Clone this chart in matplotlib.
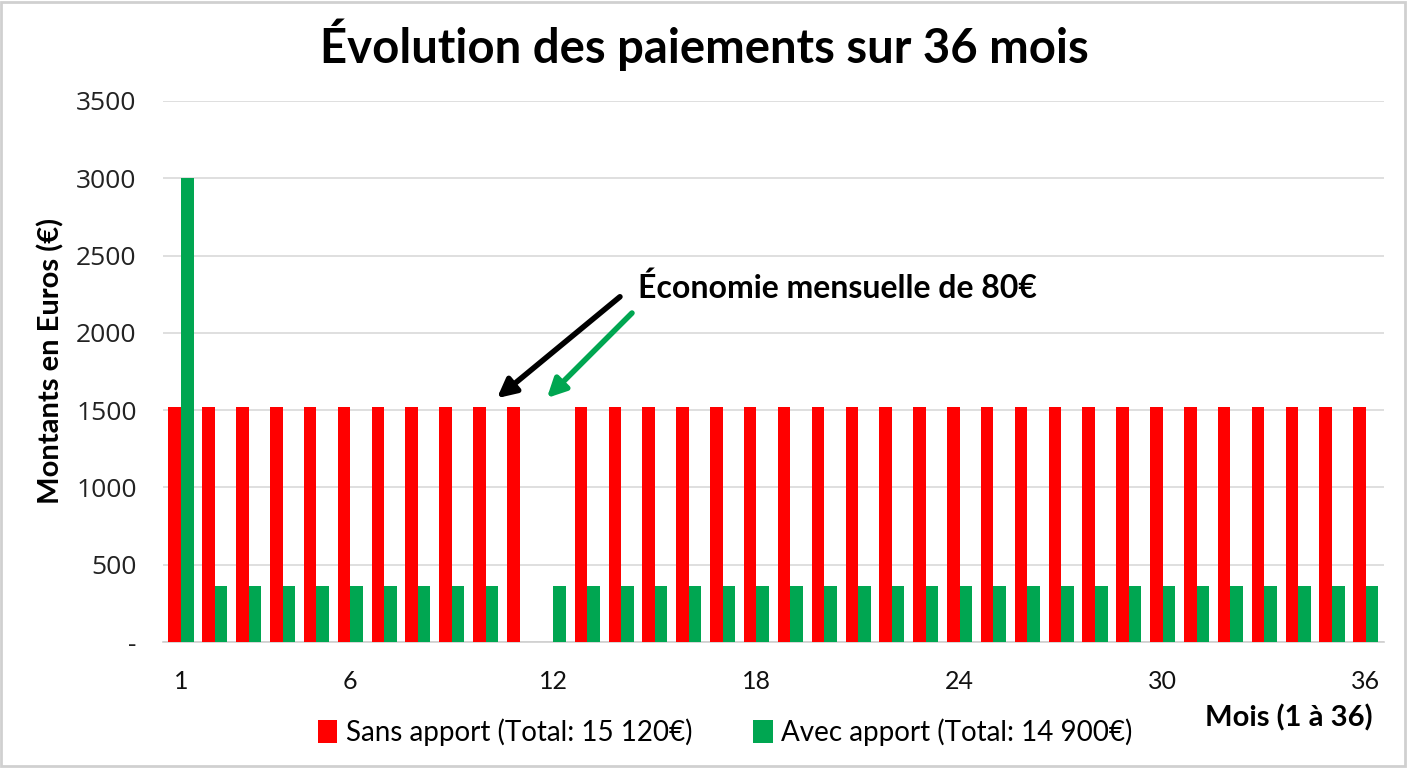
import matplotlib.pyplot as plt
import matplotlib.patches as patches
import numpy as np

# Months 1..36
months = list(range(1, 37))

# Sans apport: monthly payments
sans_apport = [1520, 1520, 1520, 1520, 1520, 1520, 1520, 1520, 1520, 1520,
               1520, 0, 1520, 1520, 1520, 1520, 1520, 1520, 1520, 1520,
               1520, 1520, 1520, 1520, 1520, 1520, 1520, 1520, 1520, 1520,
               1520, 1520, 1520, 1520, 1520, 1520]

# Avec apport: 3000 down payment in month 1, then 360 per month
avec_apport = [3000, 360, 360, 360, 360, 360, 360, 360, 360, 360,
               0, 360, 360, 360, 360, 360, 360, 360, 360, 360,
               360, 360, 360, 360, 360, 360, 360, 360, 360, 360,
               360, 360, 360, 360, 360, 360]

x_ticks = [1, 6, 12, 18, 24, 30, 36]
y_ticks = [0, 500, 1000, 1500, 2000, 2500, 3000, 3500]
y_tick_labels = ['-', '500', '1000', '1500', '2000', '2500', '3000', '3500']

label_sans = 'Sans apport (Total: 15 120€)'
label_avec = 'Avec apport (Total: 14 900€)'

RED = '#FF0000'
GREEN = '#00A651'


def main():
    fig = plt.figure(figsize=(14.08, 7.68), dpi=100)
    ax = fig.add_axes([0.1158, 0.164, 0.867, 0.7045])

    x = np.array(months)
    bar_width = 0.37
    ax.bar(x - bar_width / 2, sans_apport, bar_width, color=RED, label=label_sans, zorder=3)
    ax.bar(x + bar_width / 2, avec_apport, bar_width, color=GREEN, label=label_avec, zorder=3)

    ax.set_xlim(0.47, 36.53)
    ax.set_ylim(0, 3500)

    ax.set_yticks(y_ticks)
    ax.set_yticklabels(y_tick_labels, fontfamily='Open Sans', fontsize=19, color='#222222')
    ax.set_xticks(x_ticks)
    ax.set_xticklabels([str(t) for t in x_ticks], fontfamily='Lato', fontsize=18, color='#111111')
    ax.tick_params(axis='y', length=0, pad=19)
    ax.tick_params(axis='x', length=0, pad=20)

    ax.grid(axis='y', color='#d9d9d9', linewidth=1.2, zorder=0)
    for side in ['top', 'right', 'left']:
        ax.spines[side].set_visible(False)
    ax.spines['bottom'].set_color('#cfcfcf')
    ax.spines['bottom'].set_linewidth(1.2)

    fig.text(0.5, 0.942, 'Évolution des paiements sur 36 mois', ha='center', va='center',
             fontfamily='Lato', fontweight='bold', fontsize=34)
    fig.text(0.036, 0.53, 'Montants en Euros (€)', ha='center', va='center', rotation=90,
             fontfamily='Lato', fontweight='bold', fontsize=21)
    fig.text(0.975, 0.065, 'Mois (1 à 36)', ha='right', va='center',
             fontfamily='Lato', fontweight='bold', fontsize=21)

    # annotation with two arrows
    ax.text(14.5, 2290, 'Économie mensuelle de 80€', ha='left', va='center',
            fontfamily='Lato', fontweight='bold', fontsize=23)
    ax.annotate('', xy=(10.27, 1566), xytext=(14.03, 2245),
                arrowprops=dict(arrowstyle='-|>', color='black', lw=4, mutation_scale=28))
    ax.annotate('', xy=(11.75, 1566), xytext=(14.38, 2141),
                arrowprops=dict(arrowstyle='-|>', color=GREEN, lw=4, mutation_scale=28))

    fig.legend(loc='center', bbox_to_anchor=(0.515, 0.047), ncol=2, frameon=False,
               prop={'family': 'Lato', 'size': 20}, handlelength=0.7, handleheight=0.9,
               handletextpad=0.3, columnspacing=2.2)

    # light frame around the picture
    fig.patches.append(patches.Rectangle((0.001, 0.002), 0.997, 0.996, transform=fig.transFigure,
                                         fill=False, edgecolor='#d0d0d0', linewidth=2))

    fig.savefig('out.png', dpi=100)


if __name__ == '__main__':
    main()
